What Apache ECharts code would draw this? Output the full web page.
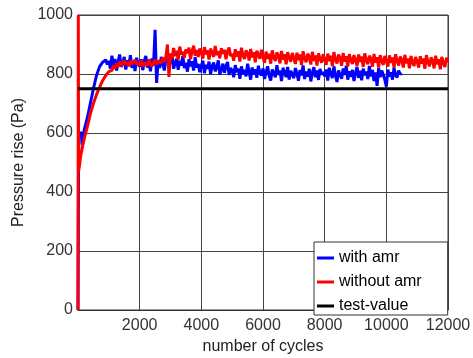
<!DOCTYPE html>
<html>
<head>
<meta charset="utf-8">
<script src="https://cdn.jsdelivr.net/npm/echarts@6/dist/echarts.min.js"></script>
<style>
  html, body { margin: 0; padding: 0; background: #fff; }
  #chart { width: 473px; height: 358px; }
</style>
</head>
<body>
<div id="chart"></div>
<script>
// Pressure rise (Pa) against number of cycles
var xTicks = [0, 2000, 4000, 6000, 8000, 10000, 12000];
var yTicks = [0, 200, 400, 600, 800, 1000];
var testValue = 750;

// start-up part of each curve (irregular cycle spacing)
var blueEarlyX = [0, 20, 40, 60, 130, 140, 200, 300, 400, 500, 600, 700, 800, 900, 950];
var blueEarlyY = [0, 540, 600, 600, 600, 560, 610, 650, 700, 750, 795, 825, 840, 848, 832];
var redEarlyX = [0, 10, 20, 60, 100, 200, 300, 400, 500, 600, 700, 800, 900, 1000, 1050];
var redEarlyY = [0, 1000, 470, 500, 530, 580, 620, 665, 700, 730, 755, 778, 795, 808, 812];

// noisy part, one sample every 50 cycles
var blueTailStart = 1000;
var blueTail = [
  845,818,862,829,851,812,840,866,824,835,858,815,847,830,864,821,842,810,855,833,
  826,850,813,844,861,822,838,809,853,830,950,770,846,820,858,835,812,849,866,828,
  841,860,818,836,852,814,845,829,861,820,838,808,850,826,843,812,857,822,834,806,
  828,845,803,831,818,842,800,826,839,809,822,846,798,815,835,804,827,841,797,820,
  812,789,830,806,818,784,826,801,814,792,835,808,781,822,799,816,787,828,803,795,
  819,783,808,826,794,778,815,802,789,830,797,812,776,821,805,790,824,781,811,799,
  786,820,802,777,814,795,829,783,808,791,818,775,804,823,789,812,780,817,798,807,
  792,815,778,821,801,786,826,795,773,812,806,784,819,797,828,781,809,790,814,776,
  803,824,787,811,779,818,796,808,783,827,792,814,776,805,760,820,789,812,798,781,
  757,815,792,806,781,821,796,788,812,799,803
];
var redTailStart = 1100;
var redTail = [
  812,830,818,836,824,842,828,838,846,831,840,826,845,834,829,848,836,841,
  830,846,825,839,843,828,850,834,826,841,848,832,845,851,837,856,842,858,900,790,
  870,852,888,861,879,848,893,866,875,855,884,870,889,851,877,896,862,881,858,886,
  874,852,891,867,880,849,886,872,858,895,864,878,853,887,869,882,850,876,890,861,
  868,845,884,859,877,842,889,863,851,880,870,846,885,857,874,840,879,866,852,882,
  858,838,876,851,869,835,880,856,844,873,862,836,878,849,867,833,874,855,842,871,
  854,834,872,847,866,830,877,853,840,869,858,832,875,845,863,829,870,851,838,867,
  850,831,869,844,862,827,874,849,836,866,855,828,871,842,860,825,867,847,834,864,
  847,828,866,841,859,824,870,846,833,862,852,825,868,839,857,822,864,844,831,861,
  844,825,863,838,856,821,867,843,829,859,848,822,865,836,853,819,861,840,827,858,
  841,822,860,835,853,818,864,840,826,856,845,819,862,833,850,816,858,837,824,855,840
];
var tailStep = 50;

function buildSeries(earlyX, earlyY, tailStart, tail) {
  var out = [];
  for (var i = 0; i < earlyX.length; i++) out.push([earlyX[i], earlyY[i]]);
  for (var j = 0; j < tail.length; j++) out.push([tailStart + j * tailStep, tail[j]]);
  return out;
}

var blueData = buildSeries(blueEarlyX, blueEarlyY, blueTailStart, blueTail);
var redData = buildSeries(redEarlyX, redEarlyY, redTailStart, redTail);
var blackData = [[xTicks[0], testValue], [xTicks[xTicks.length - 1], testValue]];

var chart = echarts.init(document.getElementById('chart'));
var font = 'Liberation Sans, Arial, sans-serif';

chart.setOption({
  animation: false,
  grid: {
    left: 78, right: 25, top: 15, bottom: 48,
    outerBoundsMode: 'none', containLabel: false,
    show: true, borderColor: '#333', borderWidth: 1
  },
  legend: {
    left: 314, top: 242,
    orient: 'vertical',
    backgroundColor: '#fff',
    borderColor: '#333', borderWidth: 1,
    padding: [8, 26, 1, 3],
    itemGap: 8,
    itemWidth: 17, itemHeight: 3,
    icon: 'rect',
    textStyle: { fontFamily: font, fontSize: 16, color: '#000' },
    data: ['with amr', 'without amr', 'test-value']
  },
  xAxis: {
    type: 'value',
    min: xTicks[0], max: xTicks[xTicks.length - 1], interval: 2000,
    name: 'number of cycles', nameLocation: 'middle', nameGap: 26,
    nameTextStyle: { fontFamily: font, fontSize: 16, color: '#222' },
    axisLine: { show: true, lineStyle: { color: '#333' } },
    axisTick: { show: false },
    axisLabel: {
      fontFamily: font, fontSize: 16, color: '#333', margin: 8,
      formatter: function (v) { return v === 0 ? '' : String(v); }
    },
    splitLine: { show: true, lineStyle: { color: '#444', width: 1 } }
  },
  yAxis: {
    type: 'value',
    min: yTicks[0], max: yTicks[yTicks.length - 1], interval: 200,
    name: 'Pressure rise (Pa)', nameLocation: 'middle', nameGap: 45,
    nameTextStyle: { fontFamily: font, fontSize: 16, color: '#222' },
    axisLine: { show: true, lineStyle: { color: '#333' } },
    axisTick: { show: false },
    axisLabel: {
      fontFamily: font, fontSize: 16, color: '#333', margin: 5,
      padding: [8, 0, 0, 0],
      formatter: function (v) { return String(v); }
    },
    splitLine: { show: true, lineStyle: { color: '#444', width: 1 } }
  },
  series: [
    {
      name: 'with amr', type: 'line', data: blueData,
      showSymbol: false, symbol: 'none',
      lineStyle: { color: '#0000ff', width: 3 },
      itemStyle: { color: '#0000ff' }
    },
    {
      name: 'without amr', type: 'line', data: redData,
      showSymbol: false, symbol: 'none',
      lineStyle: { color: '#ff0000', width: 3 },
      itemStyle: { color: '#ff0000' }
    },
    {
      name: 'test-value', type: 'line', data: blackData,
      showSymbol: false, symbol: 'none',
      lineStyle: { color: '#000', width: 3 },
      itemStyle: { color: '#000' }
    }
  ]
});
</script>
</body>
</html>
